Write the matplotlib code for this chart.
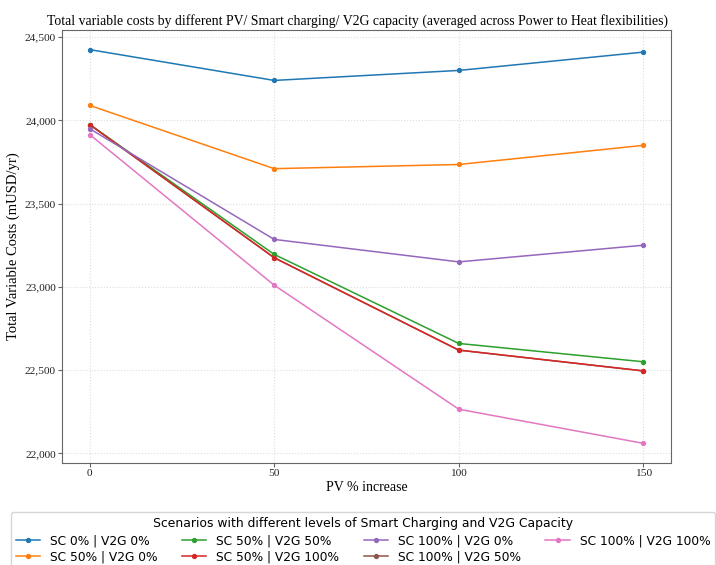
import matplotlib
matplotlib.use('Agg')
import matplotlib.pyplot as plt
from matplotlib.ticker import FuncFormatter

pv_increase = [0, 50, 100, 150]

scenarios = ['SC 0% | V2G 0%', 'SC 50% | V2G 0%', 'SC 50% | V2G 50%',
             'SC 50% | V2G 100%', 'SC 100% | V2G 0%', 'SC 100% | V2G 50%',
             'SC 100% | V2G 100%']

sc0_v2g0 = [24425, 24240, 24300, 24410]
sc50_v2g0 = [24090, 23710, 23735, 23850]
sc50_v2g50 = [23975, 23195, 22660, 22550]
sc50_v2g100 = [23975, 23175, 22620, 22495]
sc100_v2g0 = [23950, 23285, 23150, 23250]
sc100_v2g50 = [23975, 23175, 22620, 22495]
sc100_v2g100 = [23915, 23010, 22265, 22060]

series = [sc0_v2g0, sc50_v2g0, sc50_v2g50, sc50_v2g100,
          sc100_v2g0, sc100_v2g50, sc100_v2g100]
colors = ['#1f77b4', '#ff7f0e', '#2ca02c', '#d62728',
          '#9467bd', '#8c564b', '#e377c2']

serif = 'Liberation Serif'

fig = plt.figure(figsize=(7.16, 5.65), dpi=100)
ax = fig.add_axes([0.0866, 0.1805, 0.8505, 0.7665])

for i, (name, vals) in enumerate(zip(scenarios, series)):
    # the brown scenario sits under the red one in the original
    z = 1.5 if name == 'SC 100% | V2G 50%' else 2 + i * 0.01
    ax.plot(pv_increase, vals, color=colors[i], lw=1.1, marker='o',
            markersize=2.8, label=name, zorder=z)

ax.set_xticks(pv_increase)
ax.set_yticks([22000, 22500, 23000, 23500, 24000, 24500])
ax.yaxis.set_major_formatter(FuncFormatter(lambda v, p: f'{v:,.0f}'))
ax.grid(True, ls=':', color='#dddddd', lw=0.8)
for s in ax.spines.values():
    s.set_color('#666666')
ax.tick_params(colors='#222222', labelsize=8.2, length=3, pad=1.5, color='#666666')
for lab in ax.get_xticklabels() + ax.get_yticklabels():
    lab.set_fontfamily(serif)

ax.set_title('Total variable costs by different PV/ Smart charging/ V2G capacity '
             '(averaged across Power to Heat flexibilities)',
             fontfamily=serif, fontsize=9.9, pad=4, x=0.485)
ax.set_xlabel('PV % increase', fontfamily=serif, fontsize=10, labelpad=2)
ax.set_ylabel('Total Variable Costs (mUSD/yr)', fontfamily=serif, fontsize=10.5,
              labelpad=3)

leg = fig.legend(loc='upper center', bbox_to_anchor=(0.507, 0.093), ncol=4,
                 fontsize=8.8, title='Scenarios with different levels of Smart Charging and V2G Capacity',
                 title_fontsize=8.9, frameon=True, columnspacing=2.0,
                 handlelength=2.0, labelspacing=0.3, borderaxespad=0)
leg.get_frame().set_edgecolor('#cccccc')

fig.savefig('out.png', dpi=100)
